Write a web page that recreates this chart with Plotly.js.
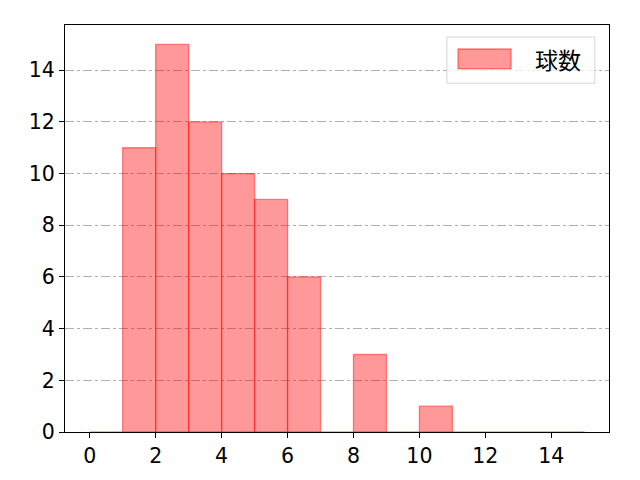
<!DOCTYPE html>
<html>
<head>
<meta charset="utf-8">
<script src="https://cdn.plot.ly/plotly-3.0.1.min.js"></script>
<style>
  html, body { margin: 0; padding: 0; background: #fff; }
  #chart { width: 640px; height: 480px; }
</style>
</head>
<body>
<div id="chart"></div>
<script>
// bin left edges (width 1) and pitch counts
const binStarts = [0, 1, 2, 3, 4, 5, 6, 7, 8, 9, 10, 11, 12, 13, 14];
const counts    = [0, 11, 15, 12, 10, 9, 6, 0, 3, 0, 1, 0, 0, 0, 0];
const seriesName = "球数";
const xTicks = [0, 2, 4, 6, 8, 10, 12, 14];
const yTicks = [0, 2, 4, 6, 8, 10, 12, 14];

const font = "'Noto Sans CJK JP', 'DejaVu Sans', sans-serif";
const tickFont = "'DejaVu Sans', sans-serif";
const fill = "rgba(255,0,0,0.4)";
const edge = "rgba(255,0,0,0.45)";

const trace = {
    type: "bar",
    x: binStarts.map(v => v + 0.5),
    y: counts,
    width: 1,
    name: seriesName,
    marker: { color: fill, line: { color: edge, width: 1.3 } },
    showlegend: false
};

const axisCommon = {
    showline: true, mirror: true, linecolor: "#000", linewidth: 1,
    ticks: "outside", ticklen: 5, tickcolor: "#000", tickwidth: 1,
    tickfont: { family: tickFont, size: 20.5, color: "#000" },
    zeroline: false
};

// matplotlib-style legend box drawn by hand (paper coords)
const legendShapes = [
    { type: "rect", xref: "paper", yref: "paper", x0: 0.702, x1: 0.974, y0: 0.857, y1: 0.9705,
      fillcolor: "rgba(255,255,255,0.8)", line: { color: "#d5d5d5", width: 1 }, layer: "above" },
    { type: "rect", xref: "paper", yref: "paper", x0: 0.7224, x1: 0.820, y0: 0.892, y1: 0.941,
      fillcolor: fill, line: { color: edge, width: 1.3 }, layer: "above" }
];

const layout = {
    width: 640, height: 480,
    paper_bgcolor: "#fff", plot_bgcolor: "#fff",
    margin: { l: 65, r: 31, t: 25, b: 48 },
    bargap: 0,
    font: { family: font, color: "#000" },
    xaxis: { ...axisCommon, range: [-0.75, 15.75], tickvals: xTicks, showgrid: false },
    yaxis: { ...axisCommon, range: [0, 15.75], tickvals: yTicks,
             showgrid: true, gridcolor: "#b0b0b0", griddash: "dashdot", gridwidth: 1 },
    shapes: legendShapes,
    annotations: [{
        xref: "paper", yref: "paper", x: 0.906, y: 0.9165, xanchor: "center", yanchor: "middle",
        text: seriesName, showarrow: false, font: { family: font, size: 23, color: "#000" }
    }],
    showlegend: false
};

Plotly.newPlot("chart", [trace], layout, { displayModeBar: false, staticPlot: true });
</script>
</body>
</html>
